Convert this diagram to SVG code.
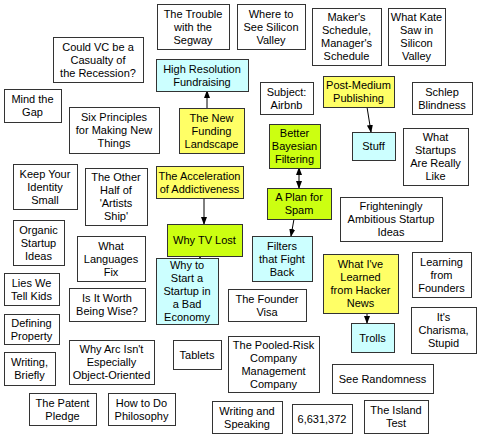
<svg xmlns="http://www.w3.org/2000/svg" width="480" height="437" viewBox="0 0 480 437">
<style>
rect{fill:#fff;stroke:#333;stroke-width:1;shape-rendering:crispEdges}
rect.y{fill:#ffff66}
rect.c{fill:#ccffff}
rect.g{fill:#ccff11}
text{font-family:"Liberation Sans",Arial,sans-serif;font-size:11px;fill:#000;text-anchor:middle}
.e{stroke:#000;stroke-width:1;fill:none}
</style>
<defs>
<marker id="ah" markerUnits="userSpaceOnUse" markerWidth="8" markerHeight="8" viewBox="0 0 8 8" refX="7" refY="4" orient="auto"><path d="M0,1 L8,4 L0,7 Z" fill="#000"/></marker>
<marker id="as" markerUnits="userSpaceOnUse" markerWidth="8" markerHeight="8" viewBox="0 0 8 8" refX="1" refY="4" orient="auto"><path d="M8,1 L0,4 L8,7 Z" fill="#000"/></marker>
</defs>
<rect x="0" y="0" width="480" height="437" style="fill:#fff;stroke:none"/>
<g id="connectors">
<line class="e" x1="207" y1="108" x2="207" y2="91" marker-end="url(#ah)"/>
<line class="e" x1="367" y1="107" x2="371" y2="132" marker-end="url(#ah)"/>
<line class="e" x1="204" y1="198" x2="204" y2="224" marker-end="url(#ah)"/>
<line class="e" x1="200" y1="249" x2="200" y2="258" marker-end="url(#ah)"/>
<line class="e" x1="299" y1="168" x2="299" y2="188" marker-start="url(#as)" marker-end="url(#ah)"/>
<line class="e" x1="294" y1="219" x2="291" y2="236" marker-end="url(#ah)"/>
<line class="e" x1="367" y1="313" x2="367" y2="323" marker-end="url(#ah)"/>
</g>
<g id="n-trouble"><rect x="157" y="4" width="72" height="45"/><text x="193" y="17.5"><tspan x="193">The Trouble</tspan><tspan x="193" dy="13">with the</tspan><tspan x="193" dy="13">Segway</tspan></text></g>
<g id="n-where"><rect x="237" y="4" width="68" height="45"/><text x="271" y="17.5"><tspan x="271">Where to</tspan><tspan x="271" dy="13">See Silicon</tspan><tspan x="271" dy="13">Valley</tspan></text></g>
<g id="n-makers"><rect x="312" y="8" width="69" height="57"/><text x="346.5" y="21"><tspan x="346.5">Maker's</tspan><tspan x="346.5" dy="13">Schedule,</tspan><tspan x="346.5" dy="13">Manager's</tspan><tspan x="346.5" dy="13">Schedule</tspan></text></g>
<g id="n-kate"><rect x="388" y="8" width="57" height="57"/><text x="416.5" y="21"><tspan x="416.5">What Kate</tspan><tspan x="416.5" dy="13">Saw in</tspan><tspan x="416.5" dy="13">Silicon</tspan><tspan x="416.5" dy="13">Valley</tspan></text></g>
<g id="n-vc"><rect x="53" y="37" width="90" height="45"/><text x="98" y="50.5"><tspan x="98">Could VC be a</tspan><tspan x="98" dy="13">Casualty of</tspan><tspan x="98" dy="13">the Recession?</tspan></text></g>
<g id="n-highres"><rect class="c" x="156" y="59" width="92" height="32"/><text x="202" y="72.5"><tspan x="202">High Resolution</tspan><tspan x="202" dy="13">Fundraising</tspan></text></g>
<g id="n-airbnb"><rect x="260" y="82" width="53" height="32"/><text x="286.5" y="95.5"><tspan x="286.5">Subject:</tspan><tspan x="286.5" dy="13">Airbnb</tspan></text></g>
<g id="n-postmedium"><rect class="y" x="323" y="76" width="71" height="31"/><text x="358.5" y="89"><tspan x="358.5">Post-Medium</tspan><tspan x="358.5" dy="13">Publishing</tspan></text></g>
<g id="n-schlep"><rect x="412" y="82" width="60" height="32"/><text x="442" y="95.5"><tspan x="442">Schlep</tspan><tspan x="442" dy="13">Blindness</tspan></text></g>
<g id="n-mindgap"><rect x="4" y="89" width="57" height="33"/><text x="32.5" y="103"><tspan x="32.5">Mind the</tspan><tspan x="32.5" dy="13">Gap</tspan></text></g>
<g id="n-six"><rect x="69" y="107" width="90" height="46"/><text x="114" y="121"><tspan x="114">Six Principles</tspan><tspan x="114" dy="13">for Making New</tspan><tspan x="114" dy="13">Things</tspan></text></g>
<g id="n-newfunding"><rect class="y" x="179" y="108" width="65" height="45"/><text x="211.5" y="121.5"><tspan x="211.5">The New</tspan><tspan x="211.5" dy="13">Funding</tspan><tspan x="211.5" dy="13">Landscape</tspan></text></g>
<g id="n-bayesian"><rect class="g" x="269" y="124" width="51" height="44"/><text x="294.5" y="137"><tspan x="294.5">Better</tspan><tspan x="294.5" dy="13">Bayesian</tspan><tspan x="294.5" dy="13">Filtering</tspan></text></g>
<g id="n-stuff"><rect class="c" x="352" y="132" width="43" height="28"/><text x="373.5" y="150">Stuff</text></g>
<g id="n-whatstartups"><rect x="403" y="128" width="65" height="57"/><text x="435.5" y="141"><tspan x="435.5">What</tspan><tspan x="435.5" dy="13">Startups</tspan><tspan x="435.5" dy="13">Are Really</tspan><tspan x="435.5" dy="13">Like</tspan></text></g>
<g id="n-identity"><rect x="13" y="164" width="64" height="45"/><text x="45" y="177.5"><tspan x="45">Keep Your</tspan><tspan x="45" dy="13">Identity</tspan><tspan x="45" dy="13">Small</tspan></text></g>
<g id="n-otherhalf"><rect x="85" y="168" width="62" height="57"/><text x="116" y="181"><tspan x="116">The Other</tspan><tspan x="116" dy="13">Half of</tspan><tspan x="116" dy="13">'Artists</tspan><tspan x="116" dy="13">Ship'</tspan></text></g>
<g id="n-accel"><rect class="y" x="156" y="166" width="87" height="32"/><text x="199.5" y="179.5"><tspan x="199.5">The Acceleration</tspan><tspan x="199.5" dy="13">of Addictiveness</tspan></text></g>
<g id="n-spam"><rect class="g" x="267" y="188" width="64" height="31"/><text x="299" y="201"><tspan x="299">A Plan for</tspan><tspan x="299" dy="13">Spam</tspan></text></g>
<g id="n-frighten"><rect x="340" y="197" width="102" height="44"/><text x="391" y="210"><tspan x="391">Frighteningly</tspan><tspan x="391" dy="13">Ambitious Startup</tspan><tspan x="391" dy="13">Ideas</tspan></text></g>
<g id="n-organic"><rect x="13" y="220" width="51" height="45"/><text x="38.5" y="233.5"><tspan x="38.5">Organic</tspan><tspan x="38.5" dy="13">Startup</tspan><tspan x="38.5" dy="13">Ideas</tspan></text></g>
<g id="n-whytv"><rect class="g" x="167" y="224" width="75" height="32"/><text x="204.5" y="244">Why TV Lost</text></g>
<g id="n-languages"><rect x="77" y="236" width="68" height="45"/><text x="111" y="249.5"><tspan x="111">What</tspan><tspan x="111" dy="13">Languages</tspan><tspan x="111" dy="13">Fix</tspan></text></g>
<g id="n-filters"><rect class="c" x="252" y="236" width="60" height="45"/><text x="282" y="249.5"><tspan x="282">Filters</tspan><tspan x="282" dy="13">that Fight</tspan><tspan x="282" dy="13">Back</tspan></text></g>
<g id="n-hn"><rect class="y" x="323" y="254" width="75" height="59"/><text x="360.5" y="268"><tspan x="360.5">What I've</tspan><tspan x="360.5" dy="13">Learned</tspan><tspan x="360.5" dy="13">from Hacker</tspan><tspan x="360.5" dy="13">News</tspan></text></g>
<g id="n-learning"><rect x="412" y="252" width="59" height="45"/><text x="441.5" y="265.5"><tspan x="441.5">Learning</tspan><tspan x="441.5" dy="13">from</tspan><tspan x="441.5" dy="13">Founders</tspan></text></g>
<g id="n-whytostart"><rect class="c" x="156" y="258" width="62" height="66"/><text x="187" y="269"><tspan x="187">Why to</tspan><tspan x="187" dy="13">Start a</tspan><tspan x="187" dy="13">Startup in</tspan><tspan x="187" dy="13">a Bad</tspan><tspan x="187" dy="13">Economy</tspan></text></g>
<g id="n-lies"><rect x="4" y="273" width="55" height="32"/><text x="31.5" y="286.5"><tspan x="31.5">Lies We</tspan><tspan x="31.5" dy="13">Tell Kids</tspan></text></g>
<g id="n-wise"><rect x="69" y="288" width="76" height="33"/><text x="107" y="302"><tspan x="107">Is It Worth</tspan><tspan x="107" dy="13">Being Wise?</tspan></text></g>
<g id="n-foundervisa"><rect x="228" y="289" width="78" height="32"/><text x="267" y="302.5"><tspan x="267">The Founder</tspan><tspan x="267" dy="13">Visa</tspan></text></g>
<g id="n-charisma"><rect x="411" y="307" width="65" height="46"/><text x="443.5" y="321"><tspan x="443.5">It's</tspan><tspan x="443.5" dy="13">Charisma,</tspan><tspan x="443.5" dy="13">Stupid</tspan></text></g>
<g id="n-defining"><rect x="4" y="314" width="55" height="30"/><text x="31.5" y="326.5"><tspan x="31.5">Defining</tspan><tspan x="31.5" dy="13">Property</tspan></text></g>
<g id="n-trolls"><rect class="c" x="351" y="323" width="43" height="29"/><text x="372.5" y="341.5">Trolls</text></g>
<g id="n-arc"><rect x="69" y="340" width="85" height="44"/><text x="111.5" y="353"><tspan x="111.5">Why Arc Isn't</tspan><tspan x="111.5" dy="13">Especially</tspan><tspan x="111.5" dy="13">Object-Oriented</tspan></text></g>
<g id="n-tablets"><rect x="173" y="340" width="48" height="29"/><text x="197" y="358.5">Tablets</text></g>
<g id="n-pooled"><rect x="228" y="336" width="91" height="56"/><text x="273.5" y="348.5"><tspan x="273.5">The Pooled-Risk</tspan><tspan x="273.5" dy="13">Company</tspan><tspan x="273.5" dy="13">Management</tspan><tspan x="273.5" dy="13">Company</tspan></text></g>
<g id="n-writingbriefly"><rect x="4" y="352" width="51" height="33"/><text x="29.5" y="366"><tspan x="29.5">Writing,</tspan><tspan x="29.5" dy="13">Briefly</tspan></text></g>
<g id="n-randomness"><rect x="332" y="364" width="101" height="29"/><text x="382.5" y="382.5">See Randomness</text></g>
<g id="n-patent"><rect x="29" y="393" width="67" height="32"/><text x="62.5" y="406.5"><tspan x="62.5">The Patent</tspan><tspan x="62.5" dy="13">Pledge</tspan></text></g>
<g id="n-philosophy"><rect x="108" y="393" width="67" height="32"/><text x="141.5" y="406.5"><tspan x="141.5">How to Do</tspan><tspan x="141.5" dy="13">Philosophy</tspan></text></g>
<g id="n-writingspeaking"><rect x="212" y="401" width="70" height="32"/><text x="247" y="414.5"><tspan x="247">Writing and</tspan><tspan x="247" dy="13">Speaking</tspan></text></g>
<g id="n-number"><rect x="292" y="404" width="60" height="29"/><text x="322" y="422.5">6,631,372</text></g>
<g id="n-island"><rect x="364" y="400" width="64" height="33"/><text x="396" y="414"><tspan x="396">The Island</tspan><tspan x="396" dy="13">Test</tspan></text></g>
</svg>
